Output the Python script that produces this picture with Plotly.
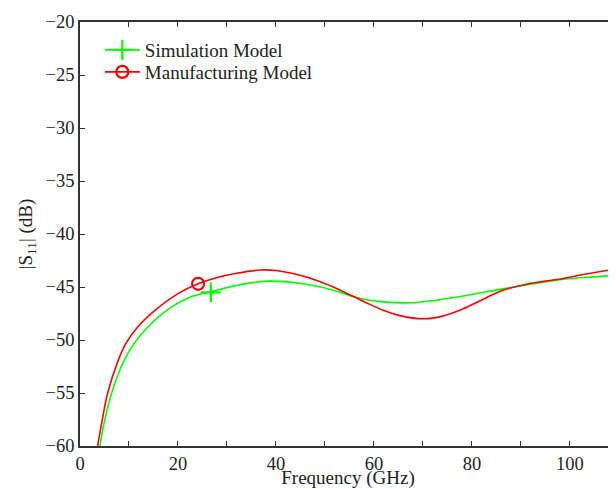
import plotly.graph_objects as go

# Simulation Model (green)
sim_freq = [4.08, 4.76, 6.46, 9.04, 11.1, 13.9, 17.7, 22.8, 26.7, 32.0, 38.1, 44.9, 51.7,
            55.8, 58.5, 62.0, 66.7, 72.0, 78.9, 86.0, 92.5, 97.3, 103.0, 109.4]
sim_s11 = [-60.0, -58.2, -55.0, -51.9, -50.3, -48.75, -47.2, -45.9, -45.45, -44.85, -44.45,
           -44.65, -45.3, -45.9, -46.2, -46.4, -46.5, -46.3, -45.8, -45.2, -44.7, -44.35, -44.1, -43.9]

# Manufacturing Model (red)
man_freq = [3.6, 4.29, 5.65, 7.82, 9.39, 11.9, 15.3, 20.1, 24.1, 28.0, 32.0, 36.7, 40.0, 44.9,
            48.5, 51.7, 55.8, 58.5, 61.9, 65.3, 70.0, 74.0, 78.0, 82.3, 86.0, 90.0, 94.0, 97.3,
            103.0, 109.4]
man_s11 = [-60.0, -58.2, -55.0, -51.9, -50.3, -48.7, -47.2, -45.6, -44.7, -44.1, -43.7, -43.4,
           -43.45, -43.9, -44.4, -45.0, -45.9, -46.5, -47.2, -47.7, -48.0, -47.75, -47.1, -46.15,
           -45.35, -44.85, -44.5, -44.3, -43.8, -43.3]

# single marker positions
sim_marker = (26.7, -45.5)
man_marker = (24.1, -44.7)

GREEN = "#00ff00"
RED = "#ff0000"
FONT = "Liberation Serif"
AX = "#333333"
TXT = "#222222"

fig = go.Figure()

fig.add_trace(go.Scatter(x=sim_freq, y=sim_s11, mode="lines",
                         line=dict(color=GREEN, width=1.6, shape="spline", smoothing=1.0),
                         showlegend=False, hoverinfo="skip"))
fig.add_trace(go.Scatter(x=man_freq, y=man_s11, mode="lines",
                         line=dict(color=RED, width=1.6, shape="spline", smoothing=1.0),
                         showlegend=False, hoverinfo="skip"))
fig.add_trace(go.Scatter(x=[sim_marker[0]], y=[sim_marker[1]], mode="markers",
                         marker=dict(symbol="cross-thin-open", size=14, color=GREEN,
                                     line=dict(color=GREEN, width=2.2)),
                         showlegend=False))
fig.add_trace(go.Scatter(x=[man_marker[0]], y=[man_marker[1]], mode="markers",
                         marker=dict(symbol="circle-open", size=12, color=RED,
                                     line=dict(color=RED, width=2.2)),
                         showlegend=False))
# legend entries
fig.add_trace(go.Scatter(x=[None], y=[None], mode="lines+markers", name="Simulation Model",
                         legend="legend",
                         line=dict(color=GREEN, width=1.6),
                         marker=dict(symbol="cross-thin-open", size=14, color=GREEN,
                                     line=dict(color=GREEN, width=2.2))))
fig.add_trace(go.Scatter(x=[None], y=[None], mode="lines+markers", name="Manufacturing Model",
                         legend="legend2",
                         line=dict(color=RED, width=1.6),
                         marker=dict(symbol="circle-open", size=12, color=RED,
                                     line=dict(color=RED, width=2.2))))
# right-side tick marks
fig.add_trace(go.Scatter(x=[None], y=[None], yaxis="y2", showlegend=False))

legend_common = dict(xanchor="left", yanchor="middle", bgcolor="rgba(0,0,0,0)",
                     font=dict(family=FONT, size=19, color=TXT), itemwidth=35,
                     borderwidth=0)

fig.update_layout(
    width=608, height=481,
    margin=dict(l=72, r=0, t=14, b=43),
    paper_bgcolor="white", plot_bgcolor="white",
    font=dict(family=FONT, size=18.5, color=TXT),
    xaxis=dict(range=[0, 109.4], dtick=20, tick0=0, ticks="inside", ticklen=5,
               tickcolor=AX, showline=True, linecolor=AX, linewidth=1.5,
               mirror="ticks", showgrid=False, zeroline=False, automargin=False,
               minor=dict(dtick=10, ticks="inside", ticklen=5, tickcolor=AX),
               title=dict(text="Frequency (GHz)", standoff=0, font=dict(size=19)),
               tickfont=dict(size=18.5)),
    yaxis=dict(range=[-60, -20], dtick=5, ticks="inside", ticklen=5,
               tickcolor=AX, showline=True, linecolor=AX, linewidth=1.5,
               showgrid=False, zeroline=False, automargin=False,
               title=dict(text="|S<sub>11</sub>| (dB)", standoff=8, font=dict(size=19)),
               tickfont=dict(size=18.5)),
    yaxis2=dict(range=[-60, -20], dtick=5, overlaying="y", side="right", ticks="inside",
                ticklen=5, tickcolor=AX, showline=False, showticklabels=False,
                showgrid=False, zeroline=False, automargin=False),
    legend=dict(x=0.037, y=0.934, **legend_common),
    legend2=dict(x=0.037, y=0.882, **legend_common),
)

fig.write_html("out.html")
